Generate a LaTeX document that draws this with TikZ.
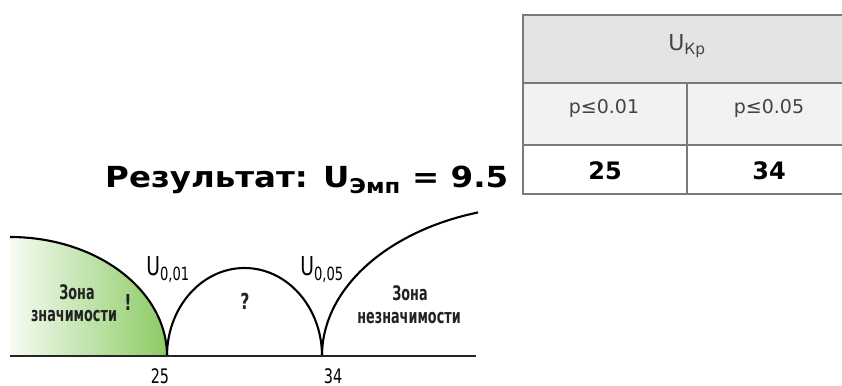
\documentclass[tikz,border=0pt]{standalone}
\usepackage{fontspec}
\setmainfont{DejaVu Sans}
\newfontfamily\cond{DejaVu Sans}[FakeStretch=0.64]
\newfontfamily\ucond{DejaVu Sans}[FakeStretch=0.72]
\newfontfamily\wide{DejaVu Sans}[FakeStretch=1.12]
\definecolor{tblborder}{HTML}{7A7A7A}
\definecolor{hdrfill}{HTML}{E4E4E4}
\definecolor{subfill}{HTML}{F2F2F2}
\definecolor{txtgray}{HTML}{444444}
\definecolor{zonegreen}{HTML}{8CCB64}
\definecolor{zonetext}{HTML}{222222}
\begin{document}
\begin{tikzpicture}[x=1pt,y=-1pt,
  curve/.style={line width=2.1pt,black},
  cell/.style={draw=tblborder,line width=1.6pt},
  tbltext/.style={text=txtgray,font=\fontsize{19}{22}\selectfont},
  numtext/.style={font=\fontsize{24}{28}\selectfont\bfseries},
  zlabel/.style={text=zonetext,font=\cond\bfseries\fontsize{20}{22}\selectfont,align=center,inner sep=0pt},
  signlabel/.style={text=zonetext,font=\ucond\bfseries\fontsize{22}{24}\selectfont,inner sep=0pt},
  ulabel/.style={font=\ucond\fontsize{26}{28}\selectfont,inner sep=0pt},
  axlabel/.style={font=\ucond\fontsize{20}{22}\selectfont,inner sep=0pt}]
\useasboundingbox (0,0) rectangle (842,385);
% table
\path[cell,fill=hdrfill] (523,15) rectangle (851,83);
\path[cell,fill=subfill] (523,83) rectangle (687,145);
\path[cell,fill=subfill] (687,83) rectangle (851,145);
\path[cell,fill=white] (523,145) rectangle (687,194);
\path[cell,fill=white] (687,145) rectangle (851,194);
\node[tbltext,font=\fontsize{22}{24}\selectfont] (hdr) at (687,46) {U\textsubscript{Кр}};
\node[tbltext] (p1) at (604,108) {p≤0.01};
\node[tbltext] (p2) at (769,108) {p≤0.05};
\node[numtext] (v1) at (605,171) {25};
\node[numtext] (v2) at (769,171) {34};
% title
\node[anchor=base west,inner sep=0pt,font=\wide\fontsize{29}{32}\selectfont\bfseries] (title) at (105,187) {Результат: U\textsubscript{Эмп} = 9.5};
% diagram
\shade[left color=zonegreen!8,right color=zonegreen] (10,237) arc[start angle=-90,end angle=0,x radius=157,y radius=119] -- (10,356) -- cycle;
\draw[curve] (10,237) arc[start angle=-90,end angle=0,x radius=157,y radius=119];
\draw[curve] (167,356) arc[start angle=180,end angle=360,x radius=77.5,y radius=88];
\begin{scope}
\clip (300,190) rectangle (478,360);
\draw[curve] (322,356) arc[start angle=180,end angle=270,x radius=220,y radius=150];
\end{scope}
\draw[line width=2.4pt,black!85] (10,356) -- (476,356);
\coordinate (k25) at (167,356);
\coordinate (k34) at (322,356);
\node[zlabel] (z1a) at (77,292) {Зона};
\node[zlabel] (z1b) at (74,316) {значимости};
\node[signlabel] (ex) at (128,302) {!};
\node[signlabel] (q) at (245,301) {?};
\node[zlabel] (z2a) at (410,293) {Зона};
\node[zlabel] (z2b) at (409,318) {незначимости};
\node[ulabel] (u1) at (168,270) {U\textsubscript{0,01}};
\node[ulabel] (u2) at (322,270) {U\textsubscript{0,05}};
\node[axlabel] (l25) at (160,376) {25};
\node[axlabel] (l34) at (333,376) {34};
\end{tikzpicture}
\end{document}
